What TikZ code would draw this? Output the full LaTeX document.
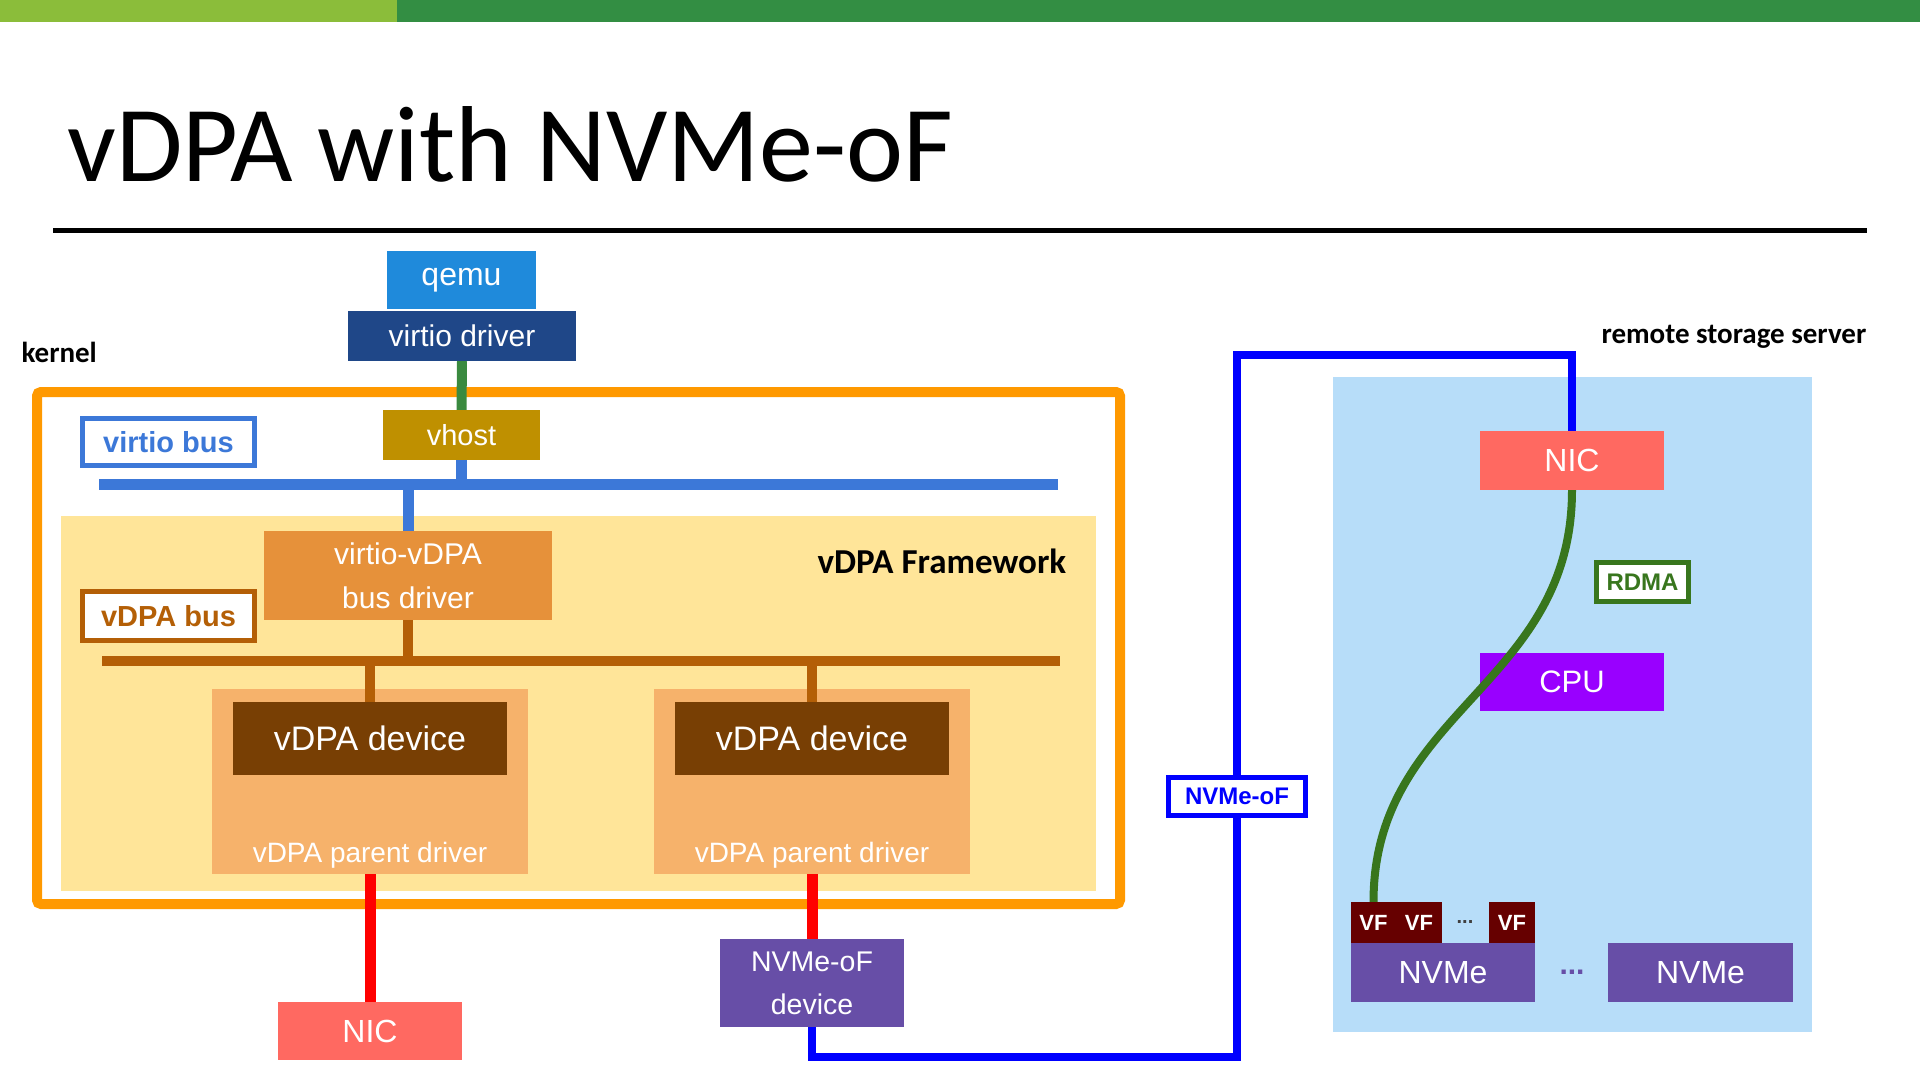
\documentclass[tikz,border=0pt]{standalone}
\usepackage{fontspec}
\setmainfont{Liberation Sans}
\newfontfamily\calibri{Carlito}
\usepackage{tikz}
\usetikzlibrary{arrows.meta, positioning}

\definecolor{BarLight}{HTML}{8BBD3A}
\definecolor{BarDark}{HTML}{338E43}
\definecolor{QemuBlue}{HTML}{1F8ADB}
\definecolor{DriverBlue}{HTML}{1F4788}
\definecolor{LinkGreen}{HTML}{3A8A3F}
\definecolor{KernelOrange}{HTML}{FF9900}
\definecolor{BusBlue}{HTML}{3C78D8}
\definecolor{VhostGold}{HTML}{BF9000}
\definecolor{FrameYellow}{HTML}{FFE599}
\definecolor{BusDrvOrange}{HTML}{E6913A}
\definecolor{BusBrown}{HTML}{B45F06}
\definecolor{ParentTan}{HTML}{F6B26B}
\definecolor{DeviceBrown}{HTML}{783F04}
\definecolor{NicRed}{HTML}{FF6961}
\definecolor{NvmePurple}{HTML}{674EA7}
\definecolor{RemoteBlue}{HTML}{B7DDF9}
\definecolor{RdmaGreen}{HTML}{38761D}
\definecolor{CpuViolet}{HTML}{9900FF}
\definecolor{VfRed}{HTML}{660000}

\begin{document}
\begin{tikzpicture}[
        x=1pt, y=-1pt,
        box/.style={inner sep=0pt, text=white, align=center,
                    font=\fontsize{30}{44}\selectfont},
        area/.style={inner sep=0pt, draw=none},
        bar/.style={inner sep=0pt, minimum height=#1},
        tag/.style={draw=#1, text=#1, fill=white, inner sep=0pt, line width=5pt,
                    font=\bfseries\fontsize{29}{34}\selectfont},
        smalltag/.style={draw=#1, text=#1, fill=white, inner sep=0pt, line width=5pt,
                    font=\bfseries\fontsize{24}{28}\selectfont},
        heading/.style={anchor=base west, font=\calibri\bfseries\fontsize{29}{34}\selectfont},
        vf/.style={box, fill=VfRed, minimum height=41pt,
                   font=\bfseries\fontsize{22}{26}\selectfont},
        line cap=butt
      ]
        \useasboundingbox (0,0) rectangle (1920,1081);
        % Top bar and title
        \fill[BarLight] (0,0) rectangle (397,22);
        \fill[BarDark] (397,0) rectangle (1920,22);
        \node[anchor=base west, inner sep=0pt, font=\calibri\fontsize{108}{120}\selectfont]
          (title) at (67,181) {vDPA with NVMe-oF};
        \draw[line width=5pt] (53,230) -- (1867,230);

        % Kernel and framework areas
        \node[area, draw=KernelOrange, line width=10pt, rounded corners=4pt,
              minimum width=1083pt, minimum height=512pt] (kbox) at (578.5,648) {};
        \node[area, fill=FrameYellow, minimum width=1035pt, minimum height=375pt]
          (fwk) at (578.5,703.5) {};
        \node[heading] (klbl) at (18,362) {kernel};
        \node[heading, font=\calibri\bfseries\fontsize{35}{40}\selectfont]
          (fwlbl) at (814,573) {vDPA Framework};

        % Remote storage server area
        \node[area, fill=RemoteBlue, minimum width=479pt, minimum height=655pt]
          (remote) at (1572.5,704.5) {};
        \node[heading] (rlbl) at (1598,343) {remote storage server};

        % Buses
        \node[bar=11pt, fill=BusBlue, minimum width=959pt] (vbus) at (578.5,484) {};
        \node[bar=10pt, fill=BusBrown, minimum width=958pt] (bbus) at (581,661) {};
        \node[tag=BusBlue, minimum width=172pt, minimum height=47pt] (vbuslbl) at (168.5,442) {virtio bus};
        \node[tag=BusBrown, minimum width=172pt, minimum height=49pt] (bbuslbl) at (168.5,616) {vDPA bus};

        % Host stack
        \node[box, fill=QemuBlue, minimum width=149pt, minimum height=58pt,
              font=\fontsize{32}{36}\selectfont] (qemu) at (461.5,280) {qemu};
        \node[box, fill=DriverBlue, minimum width=228pt, minimum height=50pt] (vdriver) at (462,336) {virtio driver};
        \node[box, fill=VhostGold, minimum width=157pt, minimum height=50pt,
              font=\fontsize{29}{34}\selectfont] (vhost) at (461.5,435) {vhost};
        \node[box, fill=BusDrvOrange, minimum width=288pt, minimum height=89pt]
          (vvdpa) at (408,575.5) {virtio-vDPA\\bus driver};
        \draw[LinkGreen, line width=10pt] (vdriver.south) -- (vhost.north);
        \draw[BusBlue, line width=11pt] (vhost.south) -- (vhost.south |- vbus.center);
        \draw[BusBlue, line width=11pt] (vbus.center -| vvdpa.north) -- (vvdpa.north);
        \draw[BusBrown, line width=10pt] (vvdpa.south) -- (vvdpa.south |- bbus.center);

        % Parent drivers and vDPA devices
        \foreach \i/\x in {1/370, 2/812}{
          \node[area, fill=ParentTan, minimum width=316pt, minimum height=185pt] (par\i) at (\x,781.5) {};
          \node[box, fill=DeviceBrown, minimum width=274pt, minimum height=73pt,
                font=\fontsize{34}{40}\selectfont] (dev\i) at (\x,738.5) {vDPA device};
          \node[box, font=\fontsize{28}{32}\selectfont] (plbl\i) at (\x,855) {vDPA parent driver};
          \draw[BusBrown, line width=10pt] (dev\i.north) -- (dev\i.north |- bbus.center);
        }

        % Devices below the kernel
        \node[box, fill=NicRed, minimum width=184pt, minimum height=58pt,
              font=\fontsize{32}{36}\selectfont] (nicL) at (370,1031) {NIC};
        \node[box, fill=NvmePurple, minimum width=184pt, minimum height=88pt,
              font=\fontsize{28.5}{43}\selectfont] (nofdev) at (812,983) {NVMe-oF\\device};
        \draw[red, line width=11pt] (par1.south) -- (nicL.north);
        \draw[red, line width=11pt] (par2.south) -- (nofdev.north);

        % Remote server parts
        \node[box, fill=NicRed, minimum width=184pt, minimum height=59pt,
              font=\fontsize{32}{36}\selectfont] (nicR) at (1572,460.5) {NIC};
        \node[box, fill=CpuViolet, minimum width=184pt, minimum height=58pt,
              font=\fontsize{31}{36}\selectfont] (cpu) at (1572,682) {CPU};
        \node[smalltag=RdmaGreen, minimum width=92pt, minimum height=39pt] (rdma) at (1642.5,582) {RDMA};
        \node[box, fill=NvmePurple, minimum width=184pt, minimum height=59pt,
              font=\fontsize{32}{36}\selectfont] (nvme1) at (1443,972.5) {NVMe};
        \node[box, fill=NvmePurple, minimum width=185pt, minimum height=59pt,
              font=\fontsize{32}{36}\selectfont] (nvme2) at (1700.5,972.5) {NVMe};
        \node[inner sep=0pt, text=NvmePurple, font=\bfseries\fontsize{30}{34}\selectfont]
          (nvmedots) at (1572,972) {...};
        % Virtual functions
        \foreach \i/\x in {1/1373.5, 2/1419}{
          \node[vf, minimum width=45.5pt] (vf\i) at (\x,922.5) {VF};
        }
        \node[vf, minimum width=46pt] (vf3) at (1512,922.5) {VF};
        \node[inner sep=0pt, text=black!75, font=\bfseries\fontsize{20}{24}\selectfont]
          (vfdots) at (1465,922) {...};
        \draw[RdmaGreen, line width=8pt] (nicR.south) .. controls +(0,196) and +(0,-192) .. (vf1.north);

        % NVMe-oF link
        \draw[blue, line width=8pt] (nofdev.south) -- ++(0,30) -| ++(425,-702) -| (nicR.north);
        \node[smalltag=blue, minimum width=137pt, minimum height=38pt] (oflbl) at (1237,796.5) {NVMe-oF};
      \end{tikzpicture}
\end{document}
